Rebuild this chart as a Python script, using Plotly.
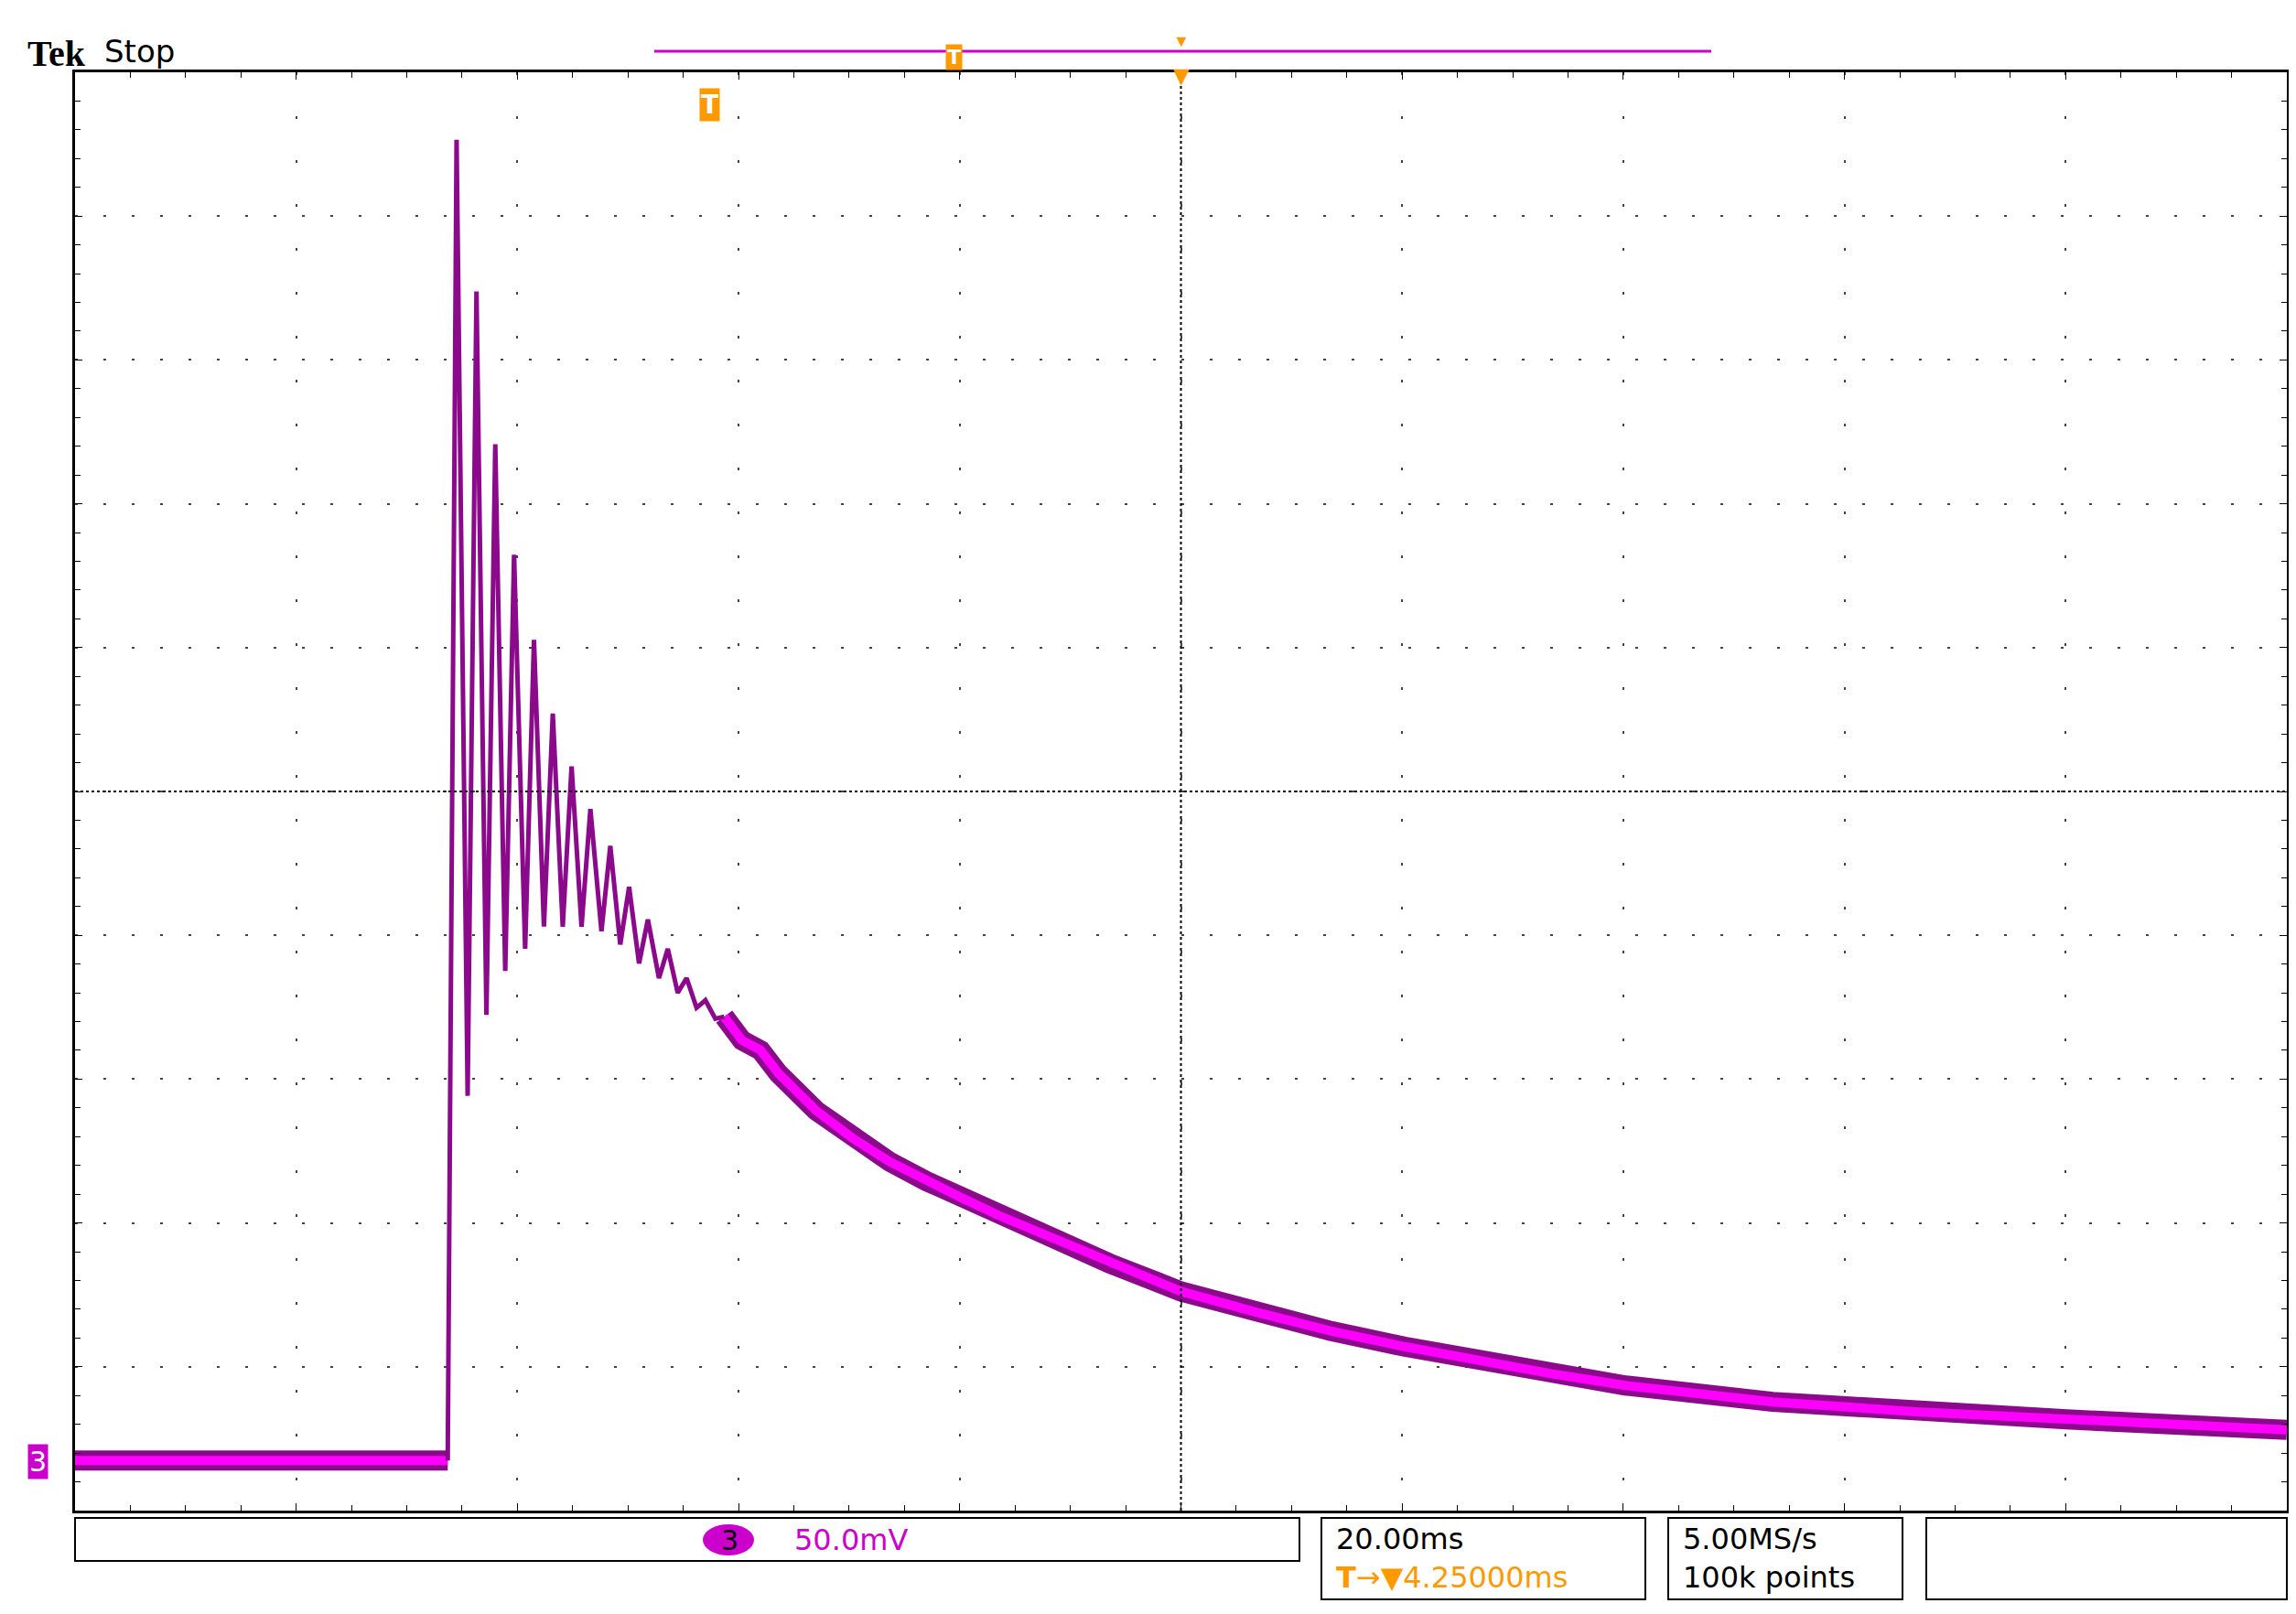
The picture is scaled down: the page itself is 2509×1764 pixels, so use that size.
import plotly.graph_objects as go

# scope trace: time in ms (20 ms/div), level in mV (50 mV/div)
base_t = [-100.0, -66.3]
base_v = [-232.6, -232.6]

ring_t = [-66.3, -66.1, -65.5, -64.5, -63.7, -62.8, -62.0, -61.1, -60.3, -59.3, -58.5,
          -57.6, -56.8, -55.9, -55.1, -54.2, -53.4, -52.4, -51.6, -50.7, -49.9, -49.0,
          -48.2, -47.2, -46.4, -45.5, -44.7, -43.8, -43.0, -42.1, -41.3]
ring_v = [-232.6, -118.6, 226.5, -105.8, 173.8, -77.7, 120.7, -62.4, 82.3, -54.7, 52.7,
          -47.0, 27.1, -47.0, 8.7, -47.0, -6.1, -48.6, -18.9, -53.2, -33.2, -59.8,
          -44.5, -64.9, -54.7, -70.0, -64.9, -75.2, -72.6, -79.0, -78.3]

decay_t = [-41.3, -39.7, -38.0, -36.4, -33.0, -29.7, -26.3, -23.0, -19.7, -16.4, -13.0, -6.5, 0.0,
           6.8, 13.6, 20.2, 26.9, 33.5, 40.2, 53.5, 66.8, 80.1, 100.0]
decay_v = [-78.3, -86.5, -90.0, -98.0, -110.9, -120.5, -128.8, -135.5, -141.5, -147.5, -153.0,
           -164.0, -173.8, -181.0, -187.6, -193.0, -197.9, -202.4, -206.5, -212.2, -215.7,
           -218.3, -221.9]

W, H = 2509, 1764
L, R, T, B = 74, 2491, 71, 1643


def px(x):
    return (x - L) / (R - L)


def py(y):
    return (B - y) / (B - T)


MAG = "#ff00ff"
DARK = "#8b0a8b"
ORANGE = "#ff9900"

fig = go.Figure()
for tt, vv in [(base_t, base_v), (decay_t, decay_v)]:
    fig.add_trace(go.Scatter(x=tt, y=vv, mode="lines", line=dict(color=DARK, width=22),
                             hoverinfo="skip"))
    fig.add_trace(go.Scatter(x=tt, y=vv, mode="lines", line=dict(color=MAG, width=10),
                             hoverinfo="skip"))
fig.add_trace(go.Scatter(x=ring_t, y=ring_v, mode="lines", line=dict(color=DARK, width=5),
                         hoverinfo="skip"))

shapes = []
# centre cross lines
shapes.append(dict(type="line", xref="x", yref="paper", x0=0, x1=0, y0=0, y1=1,
                   line=dict(color="black", width=2, dash="dot")))
shapes.append(dict(type="line", xref="paper", yref="y", x0=0, x1=1, y0=0, y1=0,
                   line=dict(color="black", width=2, dash="dot")))
# top record bar
shapes.append(dict(type="line", xref="paper", yref="paper", x0=px(707), x1=px(1862), y0=py(48), y1=py(48),
                   line=dict(color="#cc00cc", width=3)))
# bottom readout boxes
for x0, x1, y1 in [(74, 1412, 1698), (1436, 1790, 1740), (1815, 2071, 1740), (2097, 2491, 1740)]:
    shapes.append(dict(type="rect", xref="paper", yref="paper", x0=px(x0), x1=px(x1), y0=py(1651), y1=py(y1),
                       line=dict(color="black", width=2)))
# channel 3 badge
shapes.append(dict(type="circle", xref="paper", yref="paper", x0=px(760), x1=px(816), y0=py(1658), y1=py(1692),
                   fillcolor="#cc00cc", line=dict(width=0)))

ann = []


def text(x, y, s, color="black", size=32, family="DejaVu Sans", **kw):
    ann.append(dict(x=px(x), y=py(y), xref="paper", yref="paper", text=s, showarrow=False,
                    font=dict(color=color, size=size, family=family), xanchor="left", yanchor="middle", **kw))


text(20, 50, "<b>Tek</b>", size=40, family="Liberation Serif")
text(104, 48, "Stop", size=34)
text(1450, 1674, "20.00ms")
text(1450, 1716, "<b>T</b>→▼4.25000ms", color=ORANGE)
text(1829, 1674, "5.00MS/s")
text(1829, 1716, "100k points")
text(778, 1675, "3", size=30)
text(858, 1675, "50.0mV", color="#cc00cc")
text(22, 1589, "3", color="white", size=30, bgcolor="#cc00cc")
text(756, 106, "<b>T</b>", color="white", size=28, bgcolor=ORANGE)
text(1025, 55, "<b>T</b>", color="white", size=22, bgcolor=ORANGE)
ann.append(dict(x=0, y=py(74), xref="x", yref="paper", text="▼", showarrow=False,
                font=dict(color=ORANGE, size=30), yanchor="middle"))
ann.append(dict(x=0, y=py(36), xref="x", yref="paper", text="▼", showarrow=False,
                font=dict(color=ORANGE, size=18), yanchor="middle"))

axis = dict(showline=True, linecolor="black", linewidth=3, mirror="ticks", zeroline=False,
            showticklabels=False, ticks="inside", ticklen=8, tickcolor="black",
            minor=dict(ticks="inside", ticklen=6, tickcolor="black", nticks=5, showgrid=False))
fig.update_layout(
    width=W, height=H, showlegend=False,
    margin=dict(l=L, r=W - R, t=T, b=H - B),
    paper_bgcolor="white", plot_bgcolor="white",
    xaxis=dict(range=[-100, 100], dtick=20, showgrid=True, gridcolor="#444",
               griddash="3px,45px", gridwidth=2, **axis),
    yaxis=dict(range=[-250, 250], dtick=50, showgrid=True, gridcolor="#444",
               griddash="3px,28px", gridwidth=2, **axis),
    shapes=shapes, annotations=ann,
)
fig.write_html("out.html")
